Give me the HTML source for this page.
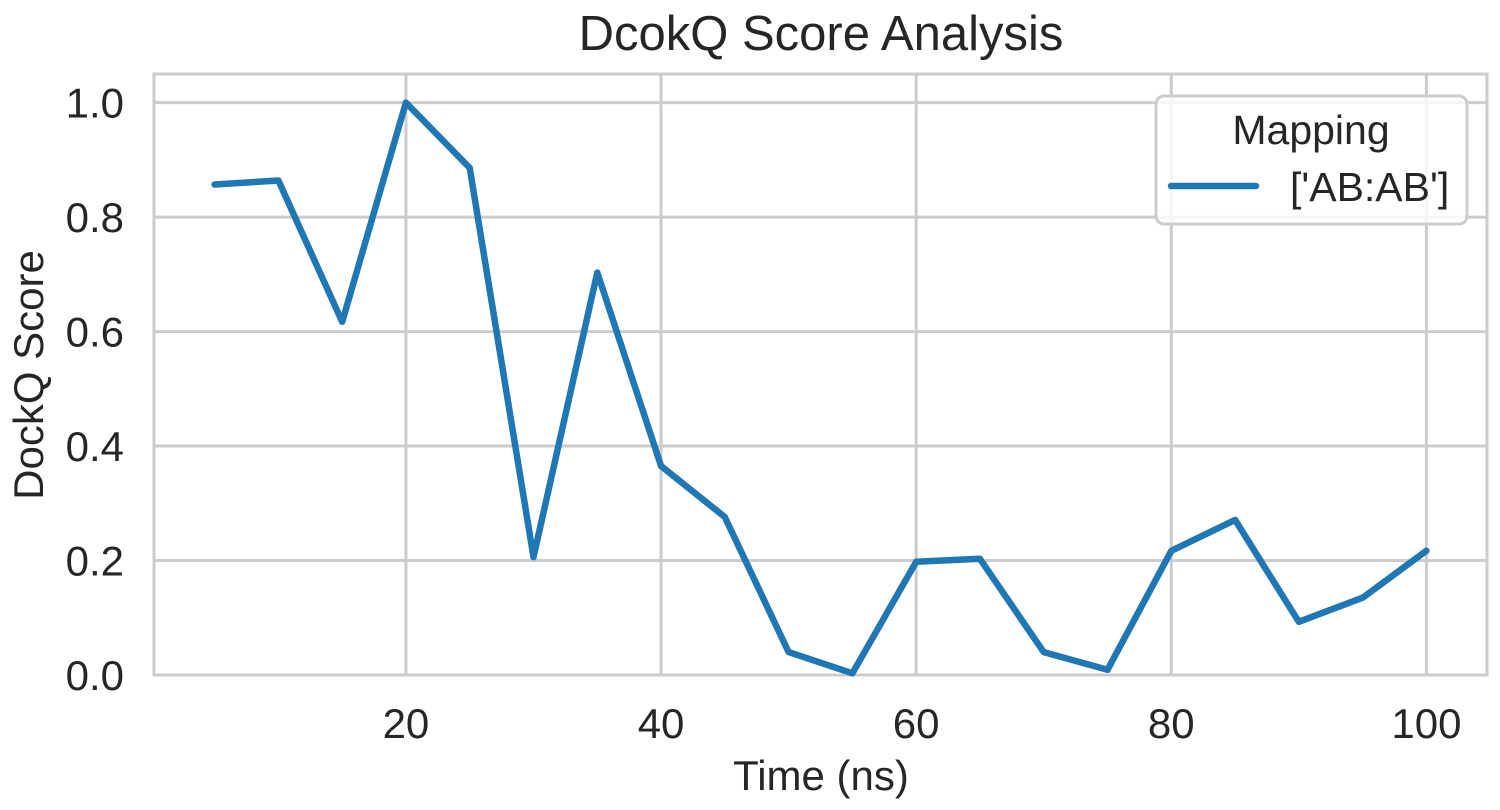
<!DOCTYPE html>
<html><head><meta charset="utf-8"><style>
html,body{margin:0;padding:0;background:#fff;}
svg{display:block;font-family:"Liberation Sans",Arial,sans-serif;}
</style></head><body>
<svg id="chart" width="1500" height="810" viewBox="0 0 1500 810">
<g id="grid"></g>
<g id="axes"></g>
<path id="line" fill="none" stroke="#1f77b4" stroke-width="6.5" stroke-linejoin="round" stroke-linecap="round"></path>
<text x="821" y="50" text-anchor="middle" font-size="49" fill="#262626">DcokQ Score Analysis</text>
<text x="821" y="790" text-anchor="middle" font-size="42" fill="#262626">Time (ns)</text>
<text transform="translate(43,375) rotate(-90)" text-anchor="middle" font-size="42" fill="#262626">DockQ Score</text>
<g>
<rect x="1156" y="96" width="311" height="128" rx="8" fill="#fff" fill-opacity="0.8" stroke="#cccccc" stroke-width="3"></rect>
<text x="1311" y="144" text-anchor="middle" font-size="41" fill="#262626">Mapping</text>
<line x1="1171" y1="186" x2="1256" y2="186" stroke="#1f77b4" stroke-width="6.5" stroke-linecap="round"></line>
<text x="1290" y="201" font-size="41" fill="#262626">['AB:AB']</text>
</g>
</svg>
<script>
const times=[5,10,15,20,25,30,35,40,45,50,55,60,65,70,75,80,85,90,95,100];
const scores=[0.857,0.864,0.617,1.0,0.886,0.206,0.703,0.365,0.276,0.04,0.003,0.198,0.203,0.04,0.009,0.217,0.271,0.093,0.135,0.217];
const xTicks=[20,40,60,80,100];
const yTicks=[0.0,0.2,0.4,0.6,0.8,1.0];
const L=154,R=1487,T=74,B=675;
const x0=0.25,x1=104.75,y0=0,y1=1.05;
const sx=v=>L+(v-x0)/(x1-x0)*(R-L);
const sy=v=>B-(v-y0)/(y1-y0)*(B-T);
const NS='http://www.w3.org/2000/svg';
const grid=document.getElementById('grid'),axes=document.getElementById('axes');
function mk(tag,attrs,parent,txt){const e=document.createElementNS(NS,tag);for(const k in attrs)e.setAttribute(k,attrs[k]);if(txt!==undefined)e.textContent=txt;parent.appendChild(e);return e;}
xTicks.forEach(t=>{
 const g=mk('line',{x1:sx(t),x2:sx(t),y1:T,y2:B,stroke:'#cccccc','stroke-width':3},grid);
 
 
 const l=mk('text',{x:sx(t),y:B+63,'text-anchor':'middle','font-size':42,fill:'#262626'},axes,String(t));
 
 
});
yTicks.forEach(t=>{
 const g=mk('line',{x1:L,x2:R,y1:sy(t),y2:sy(t),stroke:'#cccccc','stroke-width':3},grid);
 
 
 const l=mk('text',{x:124,y:sy(t)+15,'text-anchor':'end','font-size':42,fill:'#262626'},axes,t.toFixed(1));
 
 
});
const sp=mk('rect',{x:L,y:T,width:R-L,height:B-T,fill:'none',stroke:'#cccccc','stroke-width':3},axes);


document.getElementById('line').setAttribute('d',times.map((t,i)=>(i?'L':'M')+sx(t).toFixed(1)+','+sy(scores[i]).toFixed(1)).join(' '));
</script>
</body></html>
